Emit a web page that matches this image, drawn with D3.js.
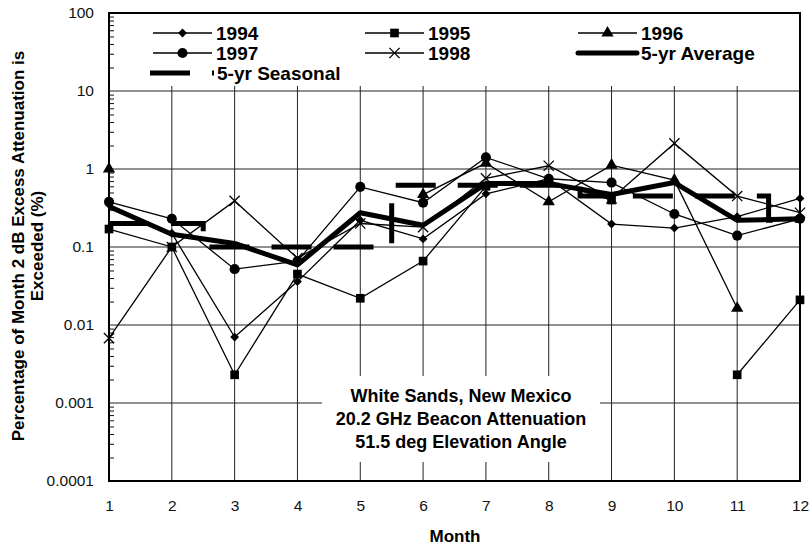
<html>
  <head>
    <title>White Sands monthly exceedance</title>
    <script type="text/javascript" src="https://cdn.jsdelivr.net/npm/d3@7"></script>
    <style>
      body { margin: 0; background: white; }
      svg { font-family: "Liberation Sans", Arial, sans-serif; }
    </style>
  </head>
  <body>
    <script type="text/javascript">
      // Data (percent of month, null = no data)
      const months = [1, 2, 3, 4, 5, 6, 7, 8, 9, 10, 11, 12];
      const yTickValues = [100, 10, 1, 0.1, 0.01, 0.001, 0.0001];
      const yTickLabels = ["100", "10", "1", "0.1", "0.01", "0.001", "0.0001"];

      const y1994 = [0.35, 0.15, 0.007, 0.036, 0.22, 0.127, 0.48, 0.75, 0.197, 0.175, 0.245, 0.42];
      const y1995 = [0.17, 0.1, 0.0023, 0.045, 0.022, 0.066, 0.6, 0.7, 0.4, null, 0.0023, 0.021];
      const y1996 = [1.0, null, null, null, null, 0.47, 1.19, 0.38, 1.12, 0.72, 0.0164, null];
      const y1997 = [0.38, 0.23, 0.052, 0.066, 0.59, 0.37, 1.41, 0.75, 0.67, 0.265, 0.14, 0.23];
      const y1998 = [0.0068, 0.1, 0.39, 0.072, 0.2, 0.18, 0.76, 1.1, 0.42, 2.13, 0.45, 0.275];
      const yAverage = [0.33, 0.146, 0.111, 0.059, 0.275, 0.19, 0.65, 0.65, 0.47, 0.67, 0.22, 0.23];

      // Seasonal averages (winter, spring, summer, fall, winter) and where each one changes
      const seasonValues = [0.2, 0.1, 0.62, 0.45, 0.22];
      const seasonEdges = [1, 2.5, 5.5, 8.5, 11.5, 12];

      const w = 812;
      const h = 545;
      const padL = 109, padR = 800, padT = 13, padB = 481;

      const svg = d3.select("body").append("svg")
        .attr("width", w)
        .attr("height", h);

      const x = d3.scaleLinear().domain([1, 12]).range([padL, padR]);
      const y = d3.scaleLog().domain([0.0001, 100]).range([padB, padT]);

      // Gitterlinjer
      const grid = svg.append("g").attr("stroke", "#222").attr("stroke-width", 1);
      grid.selectAll("line.h")
        .data(yTickValues.slice(1, -1))
        .enter().append("line")
        .attr("x1", padL).attr("x2", padR)
        .attr("y1", d => y(d)).attr("y2", d => y(d));
      grid.selectAll("line.v")
        .data(months.slice(1, -1))
        .enter().append("line")
        .attr("x1", d => x(d)).attr("x2", d => x(d))
        .attr("y1", padT).attr("y2", padB);

      // Hvide bokse til legend og tekst
      svg.append("rect").attr("x", padL + 1).attr("y", padT + 1)
        .attr("width", padR - padL - 2).attr("height", 72).attr("fill", "white");
      svg.append("rect").attr("x", 322).attr("y", 376)
        .attr("width", 278).attr("height", 86).attr("fill", "white");

      // Akser
      svg.append("g")
        .attr("transform", "translate(" + padL + ",0)")
        .call(d3.axisLeft(y).tickValues(yTickValues)
          .tickFormat((d, i) => yTickLabels[i]).tickSize(0).tickPadding(15))
        .call(g => g.select(".domain").remove())
        .selectAll("text").attr("font-size", 15.5).attr("fill", "#111")
        .attr("font-family", "Liberation Sans, Arial, sans-serif");

      const minor = [];
      yTickValues.slice(1).forEach(v => {
        for (let k = 2; k <= 9; k++) minor.push(v * k);
      });
      svg.append("g")
        .attr("transform", "translate(" + padL + ",0)")
        .call(d3.axisRight(y).tickValues(minor).tickSize(5).tickFormat(""))
        .call(g => g.select(".domain").remove())
        .selectAll("line").attr("stroke", "#111");

      svg.append("g")
        .attr("transform", "translate(0," + padB + ")")
        .call(d3.axisBottom(x).tickValues(months).tickSize(0).tickPadding(19))
        .call(g => g.select(".domain").remove())
        .selectAll("text").attr("font-size", 15.5).attr("fill", "#111")
        .attr("font-family", "Liberation Sans, Arial, sans-serif");

      svg.append("rect")
        .attr("x", padL).attr("y", padT)
        .attr("width", padR - padL).attr("height", padB - padT)
        .attr("fill", "none").attr("stroke", "black").attr("stroke-width", 2);

      // Serier
      const line = d3.line()
        .defined(d => d[1] != null)
        .x(d => x(d[0]))
        .y(d => y(d[1]));

      const symbols = {
        diamond: d3.symbol().type(d3.symbolDiamond2).size(50),
        square: d3.symbol().type(d3.symbolSquare).size(75),
        triangle: d3.symbol().type(d3.symbolTriangle).size(65),
        circle: d3.symbol().type(d3.symbolCircle).size(80),
        star: d3.symbol().type(d3.symbolTimes).size(70)
      };

      const series = [
        { name: "1994", values: y1994, sym: "diamond" },
        { name: "1995", values: y1995, sym: "square" },
        { name: "1996", values: y1996, sym: "triangle" },
        { name: "1997", values: y1997, sym: "circle" },
        { name: "1998", values: y1998, sym: "star" }
      ];

      // Seasonal step line
      const seasonPts = [];
      seasonValues.forEach((v, i) => {
        seasonPts.push([seasonEdges[i], v]);
        seasonPts.push([seasonEdges[i + 1], v]);
      });
      svg.append("path")
        .attr("d", line(seasonPts))
        .attr("fill", "none").attr("stroke", "black")
        .attr("stroke-width", 5).attr("stroke-dasharray", "40,22");

      series.forEach(s => {
        const pts = months.map((m, i) => [m, s.values[i]]);
        svg.append("path")
          .attr("d", line(pts))
          .attr("fill", "none").attr("stroke", "black").attr("stroke-width", 1.3);
        svg.selectAll(null)
          .data(pts.filter(d => d[1] != null))
          .enter().append("path")
          .attr("transform", d => "translate(" + x(d[0]) + "," + y(d[1]) + ")")
          .attr("d", symbols[s.sym])
          .attr("fill", "black")
          .attr("stroke", "black")
          .attr("stroke-width", s.sym === "star" ? 1.3 : 0);
      });

      svg.append("path")
        .attr("d", line(months.map((m, i) => [m, yAverage[i]])))
        .attr("fill", "none").attr("stroke", "black")
        .attr("stroke-width", 5).attr("stroke-linejoin", "round");

      // Legend
      const legendItems = [
        { name: "1994", sym: "diamond", lx: 153, ly: 33 },
        { name: "1995", sym: "square", lx: 365, ly: 33 },
        { name: "1996", sym: "triangle", lx: 578, ly: 33 },
        { name: "1997", sym: "circle", lx: 153, ly: 53 },
        { name: "1998", sym: "star", lx: 365, ly: 53 },
        { name: "5-yr Average", sym: null, lx: 578, ly: 53 },
        { name: "5-yr Seasonal", sym: "seasonal", lx: 150, ly: 73 }
      ];
      const legend = svg.append("g");
      legendItems.forEach(it => {
        if (it.sym === "seasonal") {
          legend.append("line")
            .attr("x1", it.lx).attr("x2", it.lx + 64)
            .attr("y1", it.ly).attr("y2", it.ly)
            .attr("stroke", "black").attr("stroke-width", 5)
            .attr("stroke-dasharray", "40,22");
        } else {
          legend.append("line")
            .attr("x1", it.lx).attr("x2", it.lx + 59)
            .attr("y1", it.ly).attr("y2", it.ly)
            .attr("stroke", "black").attr("stroke-width", it.sym ? 1.3 : 5)
            .attr("stroke-linecap", it.sym ? "butt" : "round");
          if (it.sym) {
            legend.append("path")
              .attr("transform", "translate(" + (it.lx + 29.5) + "," + it.ly + ")")
              .attr("d", symbols[it.sym])
              .attr("fill", "black").attr("stroke", "black")
              .attr("stroke-width", it.sym === "star" ? 1.3 : 0);
          }
        }
        legend.append("text")
          .attr("x", it.sym === "seasonal" ? it.lx + 67 : it.lx + 63)
          .attr("y", it.ly)
          .attr("dy", "0.36em")
          .attr("font-size", 19).attr("font-weight", "bold")
          .text(it.name);
      });

      // Annotation
      const note = ["White Sands, New Mexico", "20.2 GHz Beacon Attenuation", "51.5 deg Elevation Angle"];
      svg.append("g").selectAll("text")
        .data(note).enter().append("text")
        .attr("x", 461).attr("y", (d, i) => 402 + i * 23)
        .attr("text-anchor", "middle")
        .attr("font-size", 18).attr("font-weight", "bold")
        .text(d => d);

      // Akse-titler
      svg.append("text")
        .attr("x", 455).attr("y", 542)
        .attr("text-anchor", "middle")
        .attr("font-size", 17).attr("font-weight", "bold")
        .text("Month");
      const yTitle = svg.append("text")
        .attr("transform", "translate(24,246) rotate(-90)")
        .attr("text-anchor", "middle")
        .attr("font-size", 17).attr("font-weight", "bold");
      yTitle.append("tspan").attr("x", 0).attr("dy", 0)
        .text("Percentage of Month 2 dB Excess Attenuation is");
      yTitle.append("tspan").attr("x", 0).attr("dy", 19)
        .text("Exceeded (%)");
    </script>
  </body>
</html>
